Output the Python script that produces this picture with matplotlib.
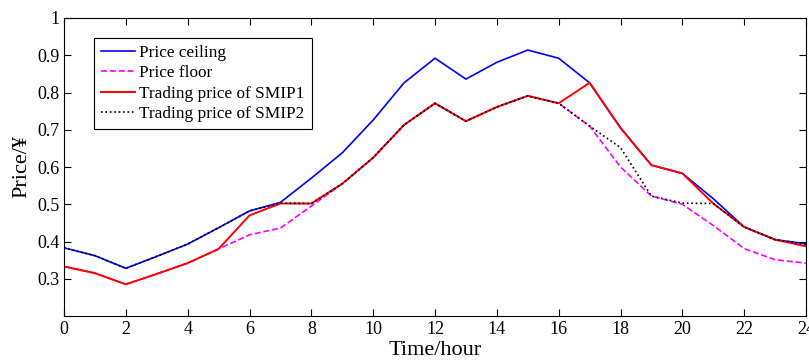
import matplotlib
matplotlib.use('Agg')
import matplotlib.pyplot as plt
import numpy as np

# Horas del día
horas = np.arange(0, 25)

# Precios
techo = [0.383, 0.362, 0.328, 0.360, 0.393, 0.437, 0.482, 0.505, 0.570, 0.638,
         0.726, 0.826, 0.892, 0.836, 0.881, 0.914, 0.892, 0.826, 0.705, 0.605,
         0.583, 0.515, 0.439, 0.405, 0.394]
piso = [0.333, 0.315, 0.285, 0.313, 0.342, 0.380, 0.418, 0.436, 0.495, 0.555,
        0.625, 0.713, 0.771, 0.723, 0.761, 0.791, 0.771, 0.710, 0.600, 0.522,
        0.500, 0.443, 0.381, 0.351, 0.342]
smip1 = [0.333, 0.315, 0.285, 0.313, 0.342, 0.380, 0.470, 0.502, 0.502, 0.555,
         0.625, 0.713, 0.771, 0.723, 0.761, 0.791, 0.771, 0.826, 0.705, 0.605,
         0.583, 0.502, 0.439, 0.405, 0.387]
smip2 = [0.383, 0.362, 0.328, 0.360, 0.393, 0.437, 0.482, 0.503, 0.502, 0.555,
         0.625, 0.713, 0.771, 0.723, 0.761, 0.791, 0.771, 0.710, 0.652, 0.522,
         0.503, 0.502, 0.439, 0.405, 0.392]

nombres = ['Price ceiling', 'Price floor', 'Trading price of SMIP1', 'Trading price of SMIP2']

plt.rcParams['font.family'] = ['Liberation Serif', 'DejaVu Serif']

fig = plt.figure(figsize=(8.09, 3.6), dpi=100)
ax = fig.add_axes([64 / 809, 1 - 316 / 360, 742 / 809, 298 / 360])

ax.plot(horas, techo, color='blue', linestyle='-', linewidth=1.2, label=nombres[0])
ax.plot(horas, piso, color='magenta', linestyle='--', linewidth=1.2, label=nombres[1])
ax.plot(horas, smip1, color='red', linestyle='-', linewidth=1.4, label=nombres[2])
ax.plot(horas, smip2, color='black', linestyle=':', linewidth=1.2, label=nombres[3])

ax.set_xlim(0, 24)
ax.set_ylim(0.2, 1)
ax.set_xticks(np.arange(0, 25, 2))
ax.set_yticks([0.3, 0.4, 0.5, 0.6, 0.7, 0.8, 0.9, 1.0])
ax.set_yticklabels(['0.3', '0.4', '0.5', '0.6', '0.7', '0.8', '0.9', '1'])
ax.tick_params(direction='in', top=True, right=True, labelsize=13, length=5)

ax.set_xlabel('Time/hour', fontsize=16, labelpad=2)
ax.set_ylabel('Price/¥', fontsize=16, labelpad=4)

ley = ax.legend(loc='upper left', bbox_to_anchor=(0.04, 0.933), borderaxespad=0,
                fontsize=12.4, fancybox=False, framealpha=1, edgecolor='black',
                handlelength=2.0, handletextpad=0.25, labelspacing=0.25, borderpad=0.4)
ley.get_frame().set_linewidth(0.8)

fig.savefig('out.png', dpi=100)
